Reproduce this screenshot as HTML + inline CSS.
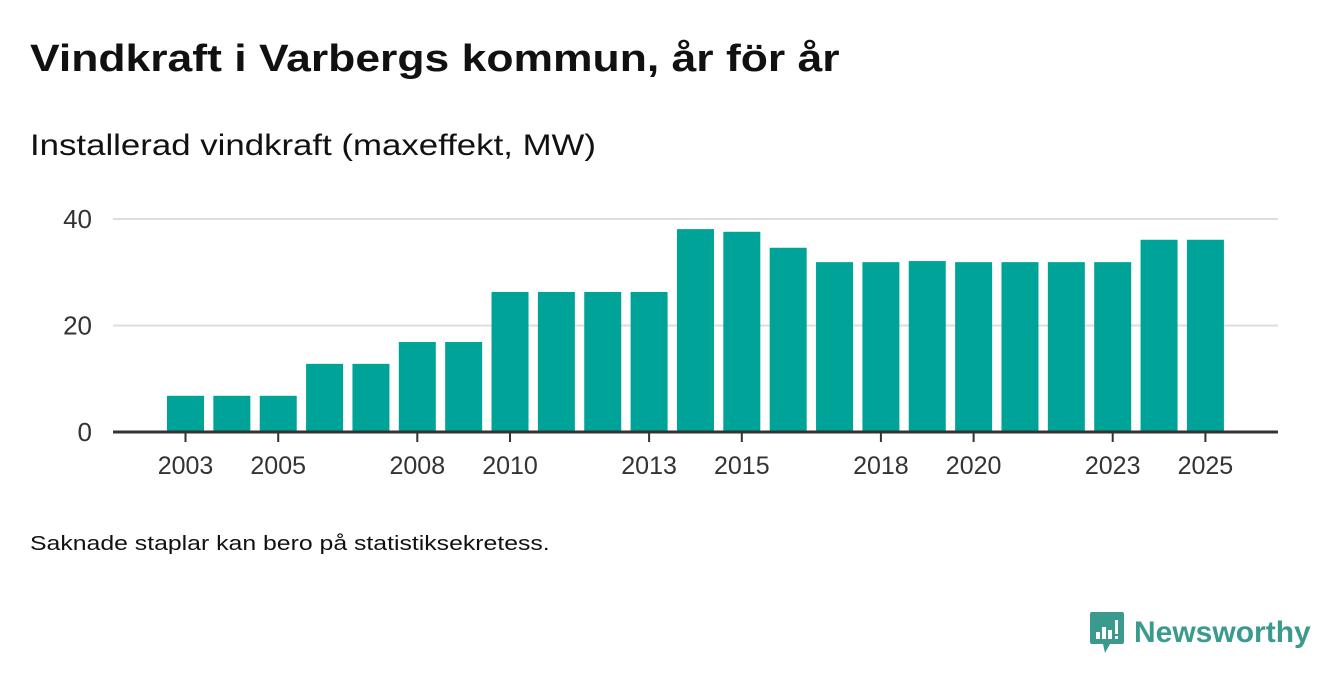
<!DOCTYPE html>
<html><head><meta charset="utf-8"><style>
body{margin:0;width:1340px;height:685px;background:#fff;font-family:"Liberation Sans",sans-serif;color:#111;overflow:hidden;position:relative}
.t,.s,.n{transform-origin:0 0;white-space:nowrap}
.t{position:absolute;left:30px;top:38px;font-size:38px;font-weight:bold;transform:scaleX(1.17)}
.s{position:absolute;left:30px;top:129px;font-size:30px;transform:scaleX(1.16)}
.n{position:absolute;left:30px;top:533px;font-size:20px;transform:scaleX(1.24)}
.logo{position:absolute;left:1090px;top:612px;display:flex;align-items:center}
.logo span{font-size:30px;font-weight:bold;color:#3b9a8e;margin-left:10px}
</style></head><body>
<div class="t">Vindkraft i Varbergs kommun, år för år</div>
<div class="s">Installerad vindkraft (maxeffekt, MW)</div>
<svg id="c" width="1340" height="685" style="position:absolute;left:0;top:0"></svg>
<div class="n">Saknade staplar kan bero på statistiksekretess.</div>
<div class="logo">
<svg width="34" height="42" viewBox="0 0 34 42"><path d="M2 0H32Q34 0 34 2V30Q34 32 32 32H20L15 41L13 32H2Q0 32 0 30V2Q0 0 2 0Z" fill="#3b9a8e"/><rect x="6" y="20" width="4" height="7" fill="#fff"/><rect x="12" y="15" width="4" height="12" fill="#fff"/><rect x="18" y="18" width="4" height="9" fill="#fff"/><rect x="25" y="8" width="3" height="14" fill="#fff"/><rect x="25" y="24" width="3" height="3" fill="#fff"/></svg>
<span>Newsworthy</span></div>
<script>
const years=[2003,2004,2005,2006,2007,2008,2009,2010,2011,2012,2013,2014,2015,2016,2017,2018,2019,2020,2021,2022,2023,2024,2025];
const values=[6.8,6.8,6.8,12.8,12.8,16.9,16.9,26.3,26.3,26.3,26.3,38.1,37.6,34.6,31.9,31.9,32.1,31.9,31.9,31.9,31.9,36.1,36.1];
const yTicks=[0,20,40];
const xTickLabels=[2003,2005,2008,2010,2013,2015,2018,2020,2023,2025];
const NS="http://www.w3.org/2000/svg",svg=document.getElementById('c');
const x=y=>185.5+(y-2003)*46.36, yv=v=>432-v*5.325;
function mk(t,a,p){const e=document.createElementNS(NS,t);for(const k in a)e.setAttribute(k,a[k]);(p||svg).appendChild(e);return e;}
yTicks.forEach(t=>{
 if(t>0){const g=mk('line',{x1:113,x2:1278,y1:yv(t),y2:yv(t),stroke:'#ddd','stroke-width':2});
 
 }
 const l=mk('text',{x:92,y:yv(t)+9,'text-anchor':'end','font-size':26,fill:'#333','font-family':'Liberation Sans, sans-serif'});l.textContent=t;
 
 
});
years.forEach((yr,i)=>{
 const r=mk('rect',{x:x(yr)-18.5,y:yv(values[i]),width:37,height:432-yv(values[i]),fill:'#00a398'});
 
 
});
const ax=mk('line',{x1:113,x2:1278,y1:432,y2:432,stroke:'#333','stroke-width':3});


xTickLabels.forEach(yr=>{
 const tk=mk('line',{x1:x(yr),x2:x(yr),y1:433,y2:442,stroke:'#333','stroke-width':2});
 
 
 const l=mk('text',{x:x(yr),y:474,'text-anchor':'middle','font-size':25,fill:'#333','font-family':'Liberation Sans, sans-serif'});l.textContent=yr;
 
 
});
</script>
</body></html>
